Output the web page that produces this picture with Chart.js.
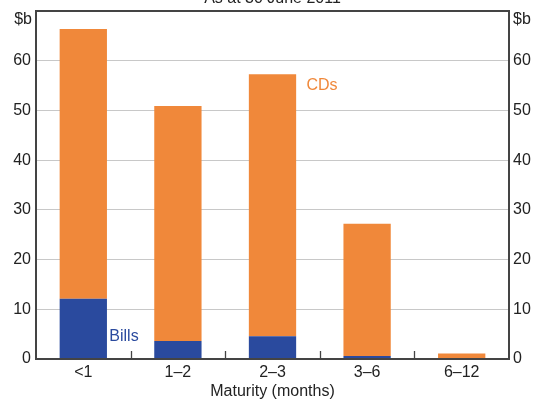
<!DOCTYPE html>
<html>
<head>
<meta charset="utf-8">
<script src="https://cdn.jsdelivr.net/npm/chart.js@4"></script>
<style>
  body { margin: 0; background: #fff; }
  #wrap { width: 536px; height: 399px; }
</style>
</head>
<body>
<div id="wrap"><canvas id="Chart1" width="536" height="399"></canvas></div>
<script>
const maturity = ['<1', '1–2', '2–3', '3–6', '6–12']
const bills = [12.1, 3.6, 4.6, 0.6, 0]
const cds = [54.3, 47.3, 52.7, 26.6, 1.1]
const yTicks = [0, 10, 20, 30, 40, 50, 60]

const orange = '#f0883a'
const blue = '#2a4a9e'
const font = 'Arial, "Liberation Sans", sans-serif'

// frame, inside ticks and the loose text bits
const extras = {
    id: 'extras',
    afterDraw(chart) {
        const { ctx, chartArea: a, scales } = chart
        const x = scales.x, y = scales.y
        ctx.save()
        ctx.strokeStyle = '#444'
        ctx.lineWidth = 2
        ctx.strokeRect(a.left, a.top, a.right - a.left, a.bottom - a.top)

        // small ticks between categories, pointing up
        ctx.lineWidth = 1.3
        const half = (x.getPixelForValue(1) - x.getPixelForValue(0)) / 2
        for (let i = 0; i < maturity.length - 1; i++) {
            const px = Math.round(x.getPixelForValue(i) + half) + 0.5
            ctx.beginPath()
            ctx.moveTo(px, a.bottom)
            ctx.lineTo(px, a.bottom - 8)
            ctx.stroke()
        }

        ctx.fillStyle = '#222'
        ctx.font = '16px ' + font
        ctx.textBaseline = 'middle'
        const unitY = y.getPixelForValue(70) + 9
        ctx.textAlign = 'right'
        ctx.fillText('$b', a.left - 4, unitY)
        ctx.textAlign = 'left'
        ctx.fillText('$b', a.right + 4, unitY)

        ctx.textAlign = 'center'
        ctx.fillText('As at 30 June 2011', (a.left + a.right) / 2, a.top - 12)
        ctx.fillText('Maturity (months)', (a.left + a.right) / 2, a.bottom + 33)

        ctx.textAlign = 'left'
        ctx.fillStyle = orange
        ctx.fillText('CDs', x.getPixelForValue(2) + 34, y.getPixelForValue(55))
        ctx.fillStyle = blue
        ctx.fillText('Bills', x.getPixelForValue(0) + 26, y.getPixelForValue(4.6))
        ctx.restore()
    }
}

const tickOpts = {
    font: { family: font, size: 16 },
    color: '#222',
    stepSize: 10,
    callback: v => yTicks.includes(v) ? String(v) : ''
}

new Chart(
    document.getElementById('Chart1'),
    {
        type: 'bar',
        data: {
            labels: maturity,
            datasets: [
                { label: 'Bills', data: bills, backgroundColor: blue },
                { label: 'CDs', data: cds, backgroundColor: orange }
            ]
        },
        options: {
            responsive: false,
            animation: false,
            layout: { padding: { top: 11, left: 0, right: 0, bottom: 0 } },
            datasets: {
                bar: { barPercentage: 1, categoryPercentage: 0.5 }
            },
            scales: {
                x: {
                    stacked: true,
                    grid: { display: false, drawTicks: false },
                    border: { display: false },
                    ticks: { font: { family: font, size: 16 }, color: '#222', padding: 4, maxRotation: 0 },
                    afterFit: s => { s.height = 40; s.paddingLeft = 0; s.paddingRight = 0 }
                },
                y: {
                    stacked: true,
                    min: 0,
                    max: 70,
                    position: 'left',
                    grid: {
                        color: ctx => (ctx.tick && ctx.tick.value > 0 && ctx.tick.value < 70) ? '#c8c8c8' : 'rgba(0,0,0,0)',
                        drawTicks: false
                    },
                    border: { display: false },
                    ticks: { ...tickOpts, padding: 5 },
                    afterFit: s => { s.width = 36; s.paddingTop = 0; s.paddingBottom = 0 }
                },
                y2: {
                    min: 0,
                    max: 70,
                    position: 'right',
                    grid: { display: false, drawTicks: false },
                    border: { display: false },
                    ticks: { ...tickOpts, padding: 4 },
                    afterFit: s => { s.width = 27; s.paddingTop = 0; s.paddingBottom = 0 }
                }
            },
            plugins: {
                legend: { display: false },
                tooltip: { enabled: false }
            }
        },
        plugins: [extras]
    }
)
</script>
</body>
</html>
